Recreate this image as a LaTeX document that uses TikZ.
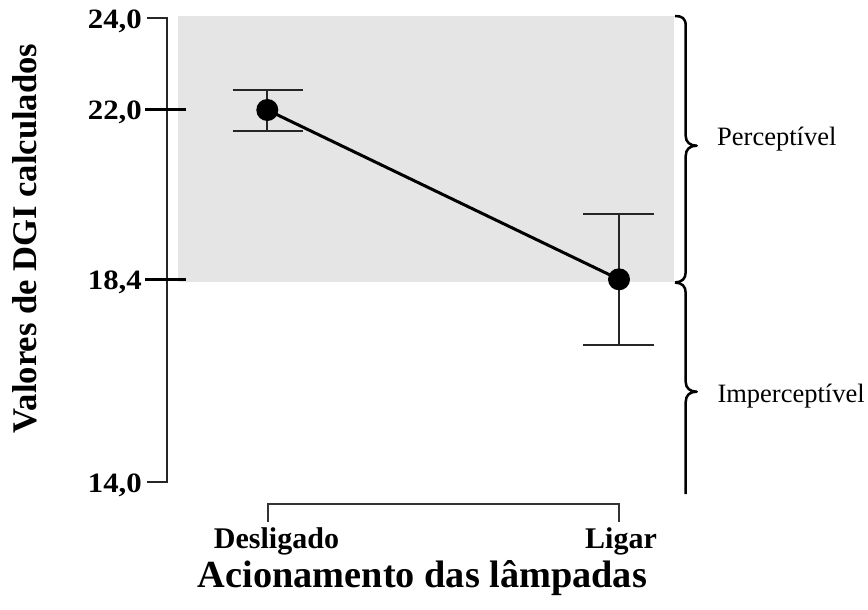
\documentclass[tikz,border=0pt]{standalone}
\usepackage{fontspec}
\setmainfont{Liberation Serif}
\begin{document}
\begin{tikzpicture}[x=1pt,y=-1pt,
  axisline/.style={line width=2pt,black!85},
  tickline/.style={line width=2.6pt,black},
  errline/.style={line width=2.3pt,black!85},
  meanline/.style={line width=3pt,black},
  meandot/.style={circle,fill=black,minimum size=22pt,inner sep=0pt},
  bracestyle/.style={line width=2.5pt,black,line join=round},
  ticklab/.style={font=\fontsize{28}{28}\selectfont\bfseries,inner sep=0pt},
  catlab/.style={font=\fontsize{30}{30}\selectfont\bfseries,inner sep=0pt},
  zonelab/.style={font=\fontsize{26.5}{26.5}\selectfont,inner sep=0pt}]
\useasboundingbox (0,0) rectangle (868,610);
% shaded zone
\fill[black!10] (178,16) rectangle (674,282);
% y axis
\draw[axisline] (147,18.3) -- (167.3,18.3) -- (167.3,482.3) -- (147,482.3);
\draw[tickline] (145,109.5) -- (186,109.5);
\draw[tickline] (145,279.5) -- (186,279.5);
\node[ticklab,anchor=base east] (t24) at (142,28.5) {\scalebox{1.1}[1]{24,0}};
\node[ticklab,anchor=base east] (t22) at (142,119.5) {\scalebox{1.1}[1]{22,0}};
\node[ticklab,anchor=base east] (t18) at (142,289.5) {\scalebox{1.1}[1]{18,4}};
\node[ticklab,anchor=base east] (t14) at (142,492.5) {\scalebox{1.1}[1]{14,0}};
% y label
\node[font=\fontsize{34.6}{34.6}\selectfont\bfseries,inner sep=0pt,rotate=90,anchor=base] (ylab) at (36,238.4) {Valores de DGI calculados};
% error bars
\draw[errline] (267.3,90) -- (267.3,131);
\draw[errline] (232.7,90) -- (302.7,90);
\draw[errline] (232.7,131) -- (302.7,131);
\draw[errline] (619,214) -- (619,345);
\draw[errline] (583.3,214) -- (654.3,214);
\draw[errline] (583.3,345) -- (654.3,345);
% means
\node[meandot] (m1) at (267.3,110) {};
\node[meandot] (m2) at (619,279.3) {};
\draw[meanline] (m1.center) -- (m2.center);
% braces
\draw[bracestyle] (675,16) .. controls (682,16) and (685.7,18) .. (685.7,26)
  -- (685.7,136) .. controls (685.7,142) and (690,145.7) .. (696.7,145.7)
  .. controls (690,145.7) and (685.7,149) .. (685.7,156)
  -- (685.7,272) .. controls (685.7,279) and (682,282) .. (675,282.5);
\draw[bracestyle] (675,282.5) .. controls (682,283) and (685.7,286) .. (685.7,293)
  -- (685.7,382) .. controls (685.7,388) and (690,391.7) .. (696.7,391.7)
  .. controls (690,391.7) and (685.7,395) .. (685.7,402)
  -- (685.7,494);
\node[zonelab,anchor=base west] (perc) at (717,146) {Perceptível};
\node[zonelab,anchor=base west] (imperc) at (717.3,402) {Imperceptível};
% x bracket
\coordinate (xl) at (267.7,521.7);
\coordinate (xr) at (619,521.7);
\draw[line width=1.8pt,black!80] (xl) -- (267.7,504) -- (619,504) -- (xr);
\node[catlab,anchor=base] (c1) at (276.5,548) {Desligado};
\node[catlab,anchor=base] (c2) at (621,548) {Ligar};
\node[font=\fontsize{38.3}{38.3}\selectfont\bfseries,inner sep=0pt,anchor=base] (xlab) at (422.5,587) {Acionamento das lâmpadas};
\end{tikzpicture}
\end{document}
